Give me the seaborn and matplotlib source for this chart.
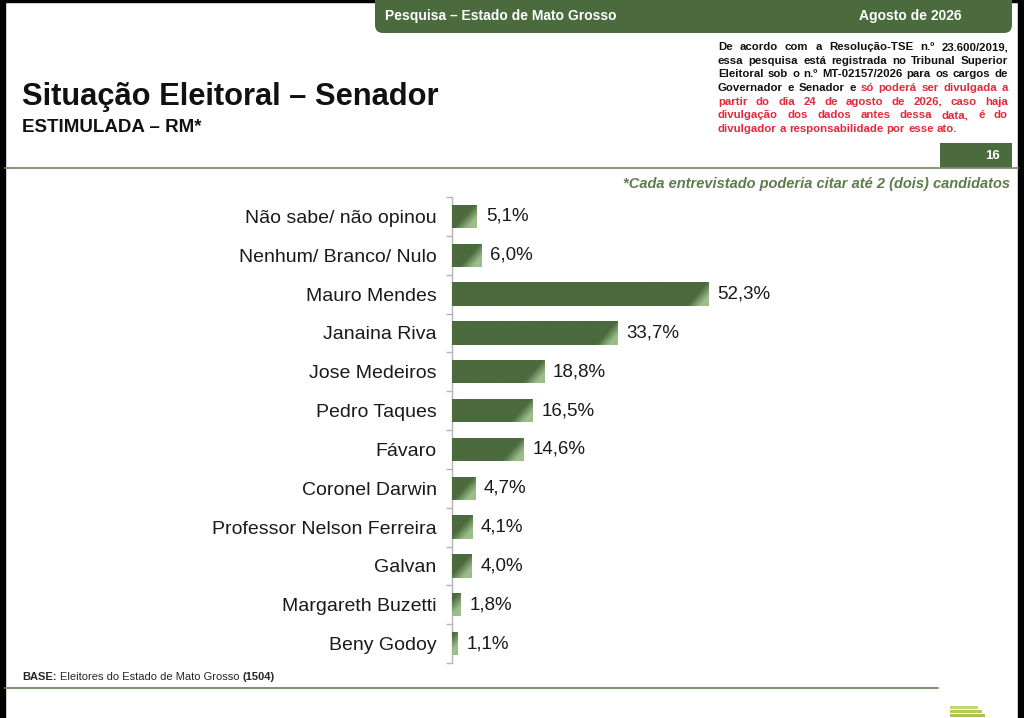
import seaborn as sns
import matplotlib.pyplot as plt
import matplotlib.patches as mpatches
import numpy as np
from matplotlib.colors import LinearSegmentedColormap

# dados do gráfico
candidatos = ["Não sabe/ não opinou", "Nenhum/ Branco/ Nulo", "Mauro Mendes", "Janaina Riva",
              "Jose Medeiros", "Pedro Taques", "Fávaro", "Coronel Darwin",
              "Professor Nelson Ferreira", "Galvan", "Margareth Buzetti", "Beny Godoy"]
percentuais = [5.1, 6.0, 52.3, 33.7, 18.8, 16.5, 14.6, 4.7, 4.1, 4.0, 1.8, 1.1]

titulo = "Situação Eleitoral – Senador"
subtitulo = "ESTIMULADA – RM*"
cabecalho_esq = "Pesquisa – Estado de Mato Grosso"
cabecalho_dir = "Agosto de 2026"
pagina = "16"
nota_citar = "*Cada entrevistado poderia citar até 2 (dois) candidatos"
nota_tse = [
    [("De acordo com a Resolução-TSE n.º 23.600/2019,", "k")],
    [("essa pesquisa está registrada no Tribunal Superior", "k")],
    [("Eleitoral sob o n.º MT-02157/2026 para os cargos de", "k")],
    [("Governador e Senador e", "k"), ("só poderá ser divulgada a", "r")],
    [("partir do dia 24 de agosto de 2026, caso haja", "r")],
    [("divulgação dos dados antes dessa data, é do", "r")],
    [("divulgador a responsabilidade por esse ato.", "r")],
]

W, H = 1024, 718
VERDE = "#4b6a3d"
VERDE_CLARO = "#9cbd8b"
VERMELHO = "#e3293b"
NARROW = ["Liberation Sans Narrow", "Liberation Sans"]

sns.set_theme(style="white")
plt.rcParams['font.family'] = ["Liberation Sans", "DejaVu Sans"]

fig = plt.figure(figsize=(W / 100, H / 100), dpi=100)
renderer = fig.canvas.get_renderer()


def fx(x):
    return x / W


def fy(y):
    return 1 - y / H


def texto(x, y, s, **kw):
    return fig.text(fx(x), fy(y), s, **kw)


def largura(s, **kw):
    t = fig.text(0, 0, s, **kw)
    w = t.get_window_extent(renderer).width
    t.remove()
    return w


# faixas pretas da captura
fig.patches.append(mpatches.Rectangle((0, 0), fx(5), 1, transform=fig.transFigure, color="black"))
fig.patches.append(mpatches.Rectangle((fx(1018), 0), 1, 1, transform=fig.transFigure, color="black"))
fig.patches.append(mpatches.Rectangle((0, fy(2)), 1, 1, transform=fig.transFigure, color="black"))

# cabeçalho verde com canto arredondado (em pixels)
banner = mpatches.FancyBboxPatch((375, H - 33), 1012 - 375, 60, boxstyle="round,pad=0,rounding_size=8",
                                 transform=None, color=VERDE, lw=0)
fig.patches.append(banner)
texto(385, 16, cabecalho_esq, color="white", fontsize=10, fontweight="bold", family=NARROW, va="center")
texto(962, 16, cabecalho_dir, color="white", fontsize=10, fontweight="bold", family=NARROW,
      va="center", ha="right")

# título
texto(22, 97, titulo, fontsize=22.2, fontweight="bold", va="center", color="#111111")
texto(22, 128, subtitulo, fontsize=13.5, fontweight="bold", va="center", color="#111111")

# nota TSE justificada
FN = dict(fontsize=8.2, fontweight="bold", family=NARROW)


def linha_justificada(y, partes, x0, x1, ultima=False):
    palavras = []
    for frase, cor in partes:
        for p in frase.split(" "):
            palavras.append((p, VERMELHO if cor == "r" else "#111111"))
    larguras = [largura(p, **FN) for p, c in palavras]
    esp = largura("a a", **FN) - 2 * largura("a", **FN)
    if ultima or len(palavras) == 1:
        gap = esp
    else:
        gap = (x1 - x0 - sum(larguras)) / (len(palavras) - 1)
    x = x0
    for (p, c), w in zip(palavras, larguras):
        texto(x, y, p, color=c, va="center", **FN)
        x += w + gap


for i, partes in enumerate(nota_tse):
    linha_justificada(47 + i * 13.7, partes, 718, 1008, ultima=(i == len(nota_tse) - 1))

# número da página e linha
fig.patches.append(mpatches.Rectangle((fx(940), fy(168)), fx(72), 25 / H, transform=fig.transFigure,
                                      color=VERDE, lw=0))
texto(993, 156, pagina, color="white", fontsize=9.5, fontweight="bold", family=NARROW, va="center", ha="center")
fig.lines.append(plt.Line2D([fx(5), fx(1018)], [fy(168), fy(168)], transform=fig.transFigure,
                            color="#7c8f70", lw=1.3))
texto(1010, 184, nota_citar, color="#5b7d4b", fontsize=10.5, fontweight="bold", style="italic",
      va="center", ha="right")

# gráfico de barras
escala = 4.9  # pixels por ponto percentual
ax = fig.add_axes([fx(452), fy(663), fx(1012 - 452), (663 - 197) / H])
sns.barplot(x=percentuais, y=candidatos, orient="h", color=VERDE, width=0.6, saturation=1, ax=ax)
ax.set_xlim(0, (1012 - 452) / escala)

cmap = LinearSegmentedColormap.from_list("barra", [VERDE, VERDE, VERDE_CLARO])
for p in ax.patches:
    x0, y0 = p.get_x(), p.get_y()
    w, h = p.get_width(), p.get_height()
    wpx = max(int(w * escala), 2)
    xx, yy = np.meshgrid(np.arange(wpx), np.arange(23))
    t = np.clip(((xx - (wpx - 26)) + (yy - 12) * 0.9) / 26, 0, 1)
    im = ax.imshow(t, cmap=cmap, vmin=0, vmax=1, extent=(x0, x0 + w, y0 + h, y0), aspect="auto",
                   interpolation="bilinear", zorder=3)
    im.set_clip_path(p)

for i, v in enumerate(percentuais):
    ax.annotate(f"{v:.1f}".replace(".", ",") + "%", xy=(v, i), xytext=(9, 0), textcoords="offset pixels",
                va="center", ha="left", fontsize=13.5, color="#1a1a1a")

ax.set_ylim(len(candidatos) - 0.5, -0.5)
ax.set_xlabel("")
ax.set_ylabel("")
ax.set_xticks([])
for s in ["top", "right", "bottom"]:
    ax.spines[s].set_visible(False)
ax.spines["left"].set_color("#b5b5b5")
ax.spines["left"].set_linewidth(1)
ax.set_yticks(np.arange(-0.5, len(candidatos)), minor=True)
ax.tick_params(axis="y", which="major", length=0, pad=11, labelsize=14, labelcolor="#1a1a1a")
ax.tick_params(axis="y", which="minor", length=4, width=1, color="#b5b5b5", left=True)
ax.set_facecolor("none")

# rodapé
FB = dict(fontsize=8, family=NARROW, va="center")
texto(22, 677, "BASE:", fontweight="bold", **FB)
x = 22 + largura("BASE: ", fontweight="bold", fontsize=8, family=NARROW)
texto(x, 677, "Eleitores do Estado de Mato Grosso", **FB)
x += largura("Eleitores do Estado de Mato Grosso ", fontsize=8, family=NARROW)
texto(x, 677, "(1504)", fontweight="bold", **FB)
fig.lines.append(plt.Line2D([fx(5), fx(938)], [fy(688), fy(688)], transform=fig.transFigure,
                            color="#6f8a60", lw=1.3))

# detalhe decorativo no canto
for k, (x1, cor) in enumerate([(978, "#c4d87a"), (982, "#b3cc55"), (985, "#a9c646")]):
    fig.patches.append(mpatches.Rectangle((fx(950), fy(709 + k * 4)), fx(x1 - 950), 3 / H,
                                          transform=fig.transFigure, color=cor, lw=0))

fig.savefig("out.png", dpi=100)
